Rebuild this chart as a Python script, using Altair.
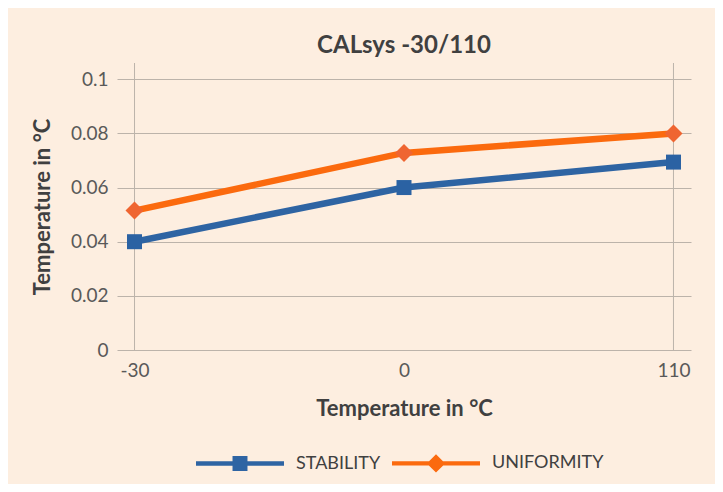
import altair as alt
import pandas as pd

# ---- data ----
temps = ["-30", "0", "110"]
stability = [0.040, 0.060, 0.0694]
uniformity = [0.0515, 0.0728, 0.080]
series = ["STABILITY", "UNIFORMITY"]
y_ticks = [0, 0.02, 0.04, 0.06, 0.08, 0.1]
outer_temps = ["-30", "110"]

# ---- styles ----
line_colors = ["#2e64a3", "#fb6a0e"]
marker_colors = ["#2b62a3", "#ef6531"]
marker_shapes = ["square", "diamond"]
marker_sizes = [225, 324]
legend_paths = [
    "M-1,-0.05H1V0.05H-1Z M-0.17,-0.17H0.17V0.17H-0.17Z",
    "M-1,-0.05H1V0.05H-1Z M0,-0.21L0.21,0L0,0.21L-0.21,0Z",
]

FONT = "Lato"
BG = "#fdeee0"
GRID = "#bcb3aa"

rows = []
for name, vals, lc, mc, ms, sz in zip(series, [stability, uniformity], line_colors,
                                      marker_colors, marker_shapes, marker_sizes):
    for t, v in zip(temps, vals):
        rows.append({"temp": t, "value": v, "series": name, "lcolor": lc,
                     "mcolor": mc, "mshape": ms, "msize": sz})
df = pd.DataFrame(rows)
vdf = pd.DataFrame({"temp": outer_temps})

x_enc = alt.X(
    "temp:O", sort=temps,
    scale=alt.Scale(type="point", padding=0.065),
    axis=alt.Axis(title="Temperature in °C", labelAngle=0, labelAlign="center",
                  labelFlush=False, grid=False, domain=False,
                  ticks=False, labelPadding=20, titlePadding=18,
                  labelFont=FONT, labelFontSize=19, labelColor="#595959",
                  titleFont=FONT, titleFontSize=22, titleFontWeight="bold",
                  titleColor="#404040"),
)
y_enc = alt.Y(
    "value:Q",
    scale=alt.Scale(domain=[0, 0.106], nice=False, zero=True),
    axis=alt.Axis(values=y_ticks, format="~g", title="Temperature in °C",
                  grid=True, gridColor=GRID, gridWidth=1, domain=False, ticks=False,
                  labelPadding=9, titlePadding=16,
                  labelFont=FONT, labelFontSize=19, labelColor="#595959",
                  titleFont=FONT, titleFontSize=22, titleFontWeight="bold",
                  titleColor="#404040"),
)

vrules = alt.Chart(vdf).mark_rule(color=GRID, strokeWidth=1).encode(
    x=alt.X("temp:O", sort=temps, scale=alt.Scale(type="point", padding=0.065))
)

lines = alt.Chart(df).mark_line(strokeWidth=6.5).encode(
    x=x_enc, y=y_enc,
    color=alt.Color("lcolor:N", scale=None),
    detail="series:N",
)

points = alt.Chart(df).mark_point(filled=True, opacity=1).encode(
    x=x_enc, y=y_enc,
    color=alt.Color("mcolor:N", scale=None),
    shape=alt.Shape("mshape:N", scale=None),
    size=alt.Size("msize:Q", scale=None),
)

legend_cfg = alt.Legend(
    title=None, orient="none", direction="horizontal", legendX=79, legendY=356,
    symbolSize=7744, symbolStrokeWidth=0, labelFont=FONT, labelFontSize=18,
    labelColor="#404040", labelOffset=12, columnPadding=11, padding=0,
)
legend_layer = alt.Chart(df).transform_filter("false").mark_point(
    filled=True, opacity=1
).encode(
    x=x_enc, y=y_enc,
    color=alt.Color("series:N", scale=alt.Scale(domain=series, range=line_colors),
                    legend=legend_cfg),
    shape=alt.Shape("series:N", scale=alt.Scale(domain=series, range=legend_paths),
                    legend=legend_cfg),
)

chart = alt.layer(vrules, lines, points, legend_layer).properties(
    width=574, height=287,
    title=alt.TitleParams("CALsys -30/110", font=FONT, fontSize=24, fontWeight="bold",
                          color="#404040", offset=5, anchor="middle"),
    autosize=alt.AutoSizeParams(type="none"),
    padding={"left": 109, "top": 55, "right": 24, "bottom": 134},
).configure(background=BG).configure_view(stroke=None)

chart.save("out.html", embed_options={"renderer": "svg", "actions": False})
